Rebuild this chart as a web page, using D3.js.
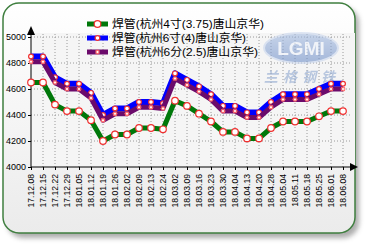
<!DOCTYPE html>
<html><head><meta charset="utf-8">
<script src="https://cdn.jsdelivr.net/npm/d3@7"></script>
<style>body{margin:0;background:#fff;}svg{display:block;}</style>
</head><body>
<script>
const labels = ["17.12.08","17.12.15","17.12.22","17.12.29","18.01.05","18.01.12","18.01.19","18.01.26","18.02.02","18.02.09","18.02.13","18.02.24","18.03.02","18.03.09","18.03.16","18.03.23","18.03.30","18.04.04","18.04.13","18.04.20","18.04.28","18.05.04","18.05.11","18.05.18","18.05.25","18.06.01","18.06.08"];
const green = [4650,4650,4480,4430,4430,4360,4200,4250,4250,4300,4300,4290,4510,4470,4410,4350,4270,4270,4220,4220,4300,4350,4350,4350,4390,4430,4430];
const blue = [4850,4850,4690,4640,4640,4570,4400,4450,4450,4500,4500,4490,4720,4670,4620,4560,4470,4470,4420,4420,4500,4560,4560,4560,4600,4640,4640];
const purple = [4810,4810,4650,4600,4600,4530,4360,4410,4410,4460,4460,4450,4680,4630,4580,4520,4430,4430,4380,4380,4460,4520,4520,4520,4560,4600,4600];
const yTicks = [4000,4200,4400,4600,4800,5000];
const seriesNames = ["焊管(杭州4寸(3.75)唐山京华)","焊管(杭州6寸(4)唐山京华)","焊管(杭州6分(2.5)唐山京华)"];

const W=365,H=245;
const svg=d3.select("body").append("svg").attr("width",W).attr("height",H);
const defs=svg.append("defs");
const g1=defs.append("linearGradient").attr("id","bg").attr("x1",0).attr("y1",0).attr("x2",0).attr("y2",1);
g1.append("stop").attr("offset","0").attr("stop-color","#ffffff");
g1.append("stop").attr("offset","1").attr("stop-color","#ebebeb");
const f=defs.append("filter").attr("id","sh").attr("x","-10%").attr("y","-10%").attr("width","130%").attr("height","130%");
f.append("feGaussianBlur").attr("stdDeviation",2.5);
const g2=defs.append("linearGradient").attr("id","wmg").attr("x1",0).attr("y1",0).attr("x2",0).attr("y2",1);
g2.append("stop").attr("offset","0").attr("stop-color","#a9bfe3");
g2.append("stop").attr("offset","1").attr("stop-color","#6f8fc8");

// frame
svg.append("rect").attr("x",7).attr("y",7).attr("width",352).attr("height",231).attr("rx",16)
  .attr("fill","#8a8a8a").attr("opacity",0.7).attr("filter","url(#sh)");
svg.append("rect").attr("x",3).attr("y",3).attr("width",352).attr("height",230).attr("rx",16)
  .attr("fill","url(#bg)").attr("stroke","#3f7f3f").attr("stroke-width",1.5);

const x=d3.scalePoint().domain(labels).range([31,343]);
const y=d3.scaleLinear().domain([4000,5000]).range([167,37]);

// plot bg
svg.append("rect").attr("x",31).attr("y",33).attr("width",324).attr("height",134).attr("fill","#f5f5f5");

// grid
svg.append("g").selectAll("line").data(yTicks.slice(1)).join("line")
  .attr("x1",31).attr("x2",352).attr("y1",d=>y(d)).attr("y2",d=>y(d))
  .attr("stroke","#9a9a9a").attr("stroke-width",1).attr("stroke-dasharray","1,2");
svg.append("g").selectAll("line").data(labels.slice(1)).join("line")
  .attr("x1",d=>x(d)).attr("x2",d=>x(d)).attr("y1",34).attr("y2",167)
  .attr("stroke","#9a9a9a").attr("stroke-width",1).attr("stroke-dasharray","1,2");

// watermark
const wm=svg.append("g").attr("opacity",0.6);
wm.append("ellipse").attr("cx",301).attr("cy",48).attr("rx",37).attr("ry",15).attr("fill","url(#wmg)").attr("stroke","#c9d6ee").attr("stroke-width",2);
wm.append("text").attr("x",301).attr("y",55).attr("text-anchor","middle").attr("font-family","Liberation Sans, Arial").attr("font-weight","bold").attr("font-size",19).attr("fill","#eef3fb").text("LGMI");
wm.append("text").attr("x",302).attr("y",82).attr("text-anchor","middle").attr("font-family","Noto Sans CJK SC").attr("font-style","italic").attr("font-weight","bold").attr("font-size",14).attr("letter-spacing",5).attr("fill","#8fa7cf").text("兰格钢铁");

// axes
const xAxis=d3.axisBottom(x).tickSize(3).tickFormat("");
const ax=svg.append("g").attr("transform","translate(0,167)").call(xAxis);
ax.select(".domain").attr("d","M31,0H352").attr("stroke","#000");
ax.selectAll(".tick line").attr("stroke","#000");
svg.append("path").attr("d","M350,163L358,167L350,171Z").attr("fill","#000");
svg.append("g").selectAll("text").data(labels).join("text")
  .attr("transform",d=>`translate(${x(d)+3},174) rotate(-90)`)
  .attr("text-anchor","end").attr("font-family","Liberation Sans, Arial").attr("font-size",8.6).attr("fill","#000").text(d=>d);

const yAxis=d3.axisLeft(y).tickValues(yTicks).tickSize(3).tickPadding(2).tickFormat(d3.format("d"));
const ay=svg.append("g").attr("transform","translate(31,0)").call(yAxis);
ay.select(".domain").attr("d","M0,167V33").attr("stroke","#000");
ay.selectAll("text").attr("font-family","Liberation Sans, Arial").attr("font-size",9).attr("fill","#000");
svg.append("path").attr("d","M27,35L31,26L35,35Z").attr("fill","#000");

// lines
const line=d3.line().x((d,i)=>x(labels[i])).y(d=>y(d));
const series=[
  {name:seriesNames[0],data:green,color:"#00780a",w:5,mk:"circle",len:152},
  {name:seriesNames[1],data:blue,color:"#0000ff",w:6,mk:"small",len:134},
  {name:seriesNames[2],data:purple,color:"#6b0a6b",w:5,mk:"star",len:146}
];
function marker(g,type,cx,cy){
  if(type==="circle"){
    g.append("circle").attr("cx",cx).attr("cy",cy).attr("r",3.3).attr("fill","#fff").attr("stroke","#f03030").attr("stroke-width",1.2);
  } else if(type==="small"){
    g.append("circle").attr("cx",cx).attr("cy",cy).attr("r",2.4).attr("fill","#fff").attr("stroke","#f03030").attr("stroke-width",1.2);
  } else {
    g.append("path").attr("d",`M${cx-2.5},${cy}H${cx+2.5}M${cx},${cy-2.5}V${cy+2.5}M${cx-1.8},${cy-1.8}L${cx+1.8},${cy+1.8}M${cx-1.8},${cy+1.8}L${cx+1.8},${cy-1.8}`)
      .attr("stroke","#ff6b6b").attr("stroke-width",1.2);
    g.append("circle").attr("cx",cx).attr("cy",cy).attr("r",1).attr("fill","#fff");
  }
}
series.forEach(s=>{
  const g=svg.append("g");
  g.append("path").datum(s.data).attr("d",line).attr("fill","none").attr("stroke",s.color).attr("stroke-width",s.w).attr("stroke-linejoin","round");
  s.data.forEach((v,i)=>marker(g,s.mk,x(labels[i]),y(v)));
});

// legend
const lg=svg.append("g");
series.forEach((s,i)=>{
  const yy=24+i*14;
  lg.append("rect").attr("x",87).attr("y",yy-2.5).attr("width",21).attr("height",5).attr("fill",s.color);
  marker(lg,s.mk,97.5,yy);
  lg.append("text").attr("x",112).attr("y",yy+4).attr("font-family","Liberation Sans, 'Noto Sans CJK SC', sans-serif").attr("font-size",11.5)
    .attr("textLength",s.len).attr("lengthAdjust","spacingAndGlyphs").attr("fill","#000").text(s.name);
});
</script>
</body></html>
